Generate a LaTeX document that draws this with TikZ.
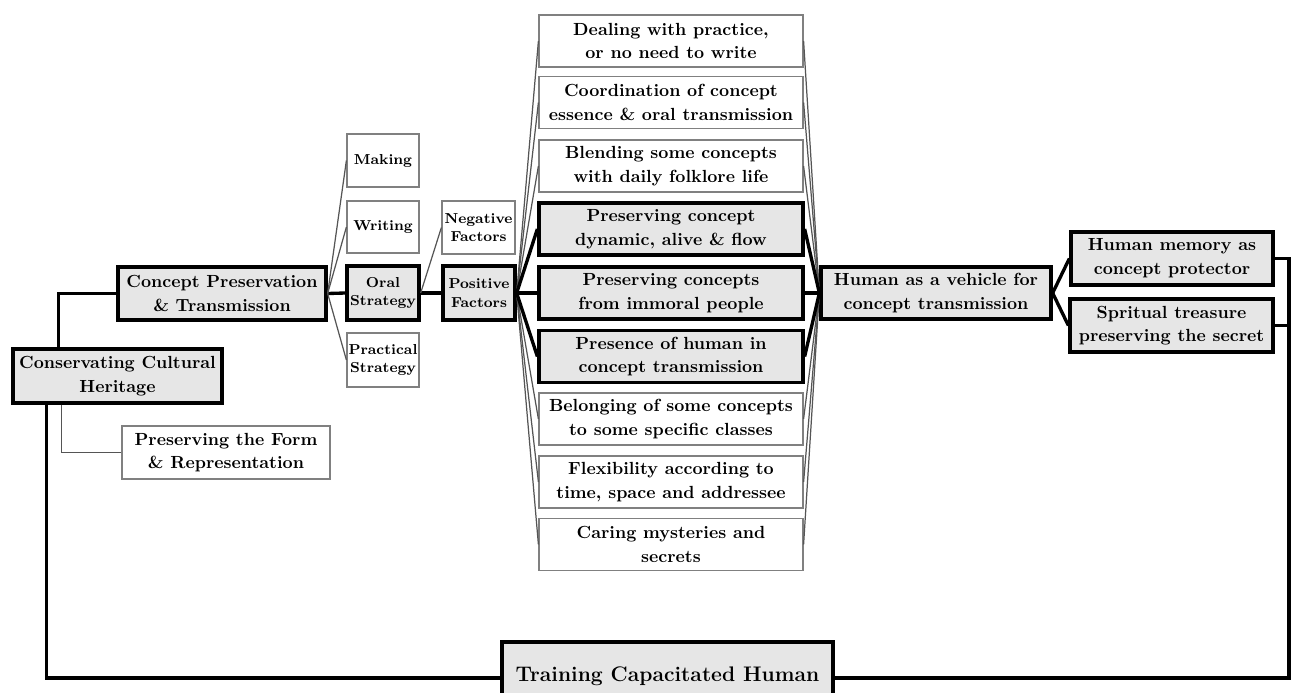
\documentclass[tikz,border=0pt]{standalone}
\usetikzlibrary{calc}
\definecolor{boxgray}{HTML}{E6E6E6}
\definecolor{thingray}{HTML}{555555}
\begin{document}
\begin{tikzpicture}[x=0.02cm,y=-0.02cm,
  base/.style={align=center,inner sep=0pt,font=\bfseries\fontsize{10}{13.5}\selectfont},
  gbox/.style={base,draw=black,line width=1.9pt,fill=boxgray},
  wbox/.style={base,draw=gray,line width=0.7pt,fill=white},
  small/.style={font=\bfseries\fontsize{8.2}{10.5}\selectfont},
  thickc/.style={draw=black,line width=1.9pt},
  thinc/.style={draw=thingray,line width=0.7pt},
  mid/.style={minimum width=5.28cm,minimum height=1.04cm}]
\useasboundingbox (0,0) rectangle (1292,693);
% left part
\node[gbox,minimum width=4.18cm,minimum height=1.08cm] (cch) at (117.5,376) {Conservating Cultural\\Heritage};
\node[gbox,minimum width=4.16cm,minimum height=1.06cm] (cpt) at (222,293.5) {Concept Preservation\\\& Transmission};
\node[wbox,minimum width=4.16cm,minimum height=1.06cm] (pfr) at (226,452.5) {Preserving the Form\\\& Representation};
% strategies
\node[wbox,small,minimum width=1.44cm,minimum height=1.06cm] (mak) at (383,160.5) {Making};
\node[wbox,small,minimum width=1.44cm,minimum height=1.04cm] (wri) at (383,227) {Writing};
\node[gbox,small,minimum width=1.44cm,minimum height=1.08cm] (ora) at (383,293) {Oral\\Strategy};
\node[wbox,small,minimum width=1.44cm,minimum height=1.08cm] (pra) at (383,360) {Practical\\Strategy};
\node[wbox,small,minimum width=1.46cm,minimum height=1.06cm] (neg) at (478.5,227.5) {Negative\\Factors};
\node[gbox,small,minimum width=1.44cm,minimum height=1.08cm] (pos) at (479,293) {Positive\\Factors};
% middle column
\node[wbox,mid] (m1) at (671,41) {Dealing with practice,\\or no need to write};
\node[wbox,mid] (m2) at (671,102.5) {Coordination of concept\\essence \& oral transmission};
\node[wbox,mid] (m3) at (671,166) {Blending some concepts\\with daily folklore life};
\node[gbox,mid] (m4) at (671,229) {Preserving concept\\dynamic, alive \& flow};
\node[gbox,mid] (m5) at (671,293) {Preserving concepts\\from immoral people};
\node[gbox,mid] (m6) at (671,356.5) {Presence of human in\\concept transmission};
\node[wbox,mid] (m7) at (671,419) {Belonging of some concepts\\to some specific classes};
\node[wbox,mid] (m8) at (671,482) {Flexibility according to\\time, space and addressee};
\node[wbox,mid] (m9) at (671,544.5) {Caring mysteries and\\secrets};
% right part
\node[gbox,minimum width=4.6cm,minimum height=1.04cm] (hv) at (936,293) {Human as a vehicle for\\concept transmission};
\node[gbox,minimum width=4.04cm,minimum height=1.06cm] (hm) at (1172,258.5) {Human memory as\\concept protector};
\node[gbox,minimum width=4.06cm,minimum height=1.06cm] (st) at (1171.5,325.5) {Spritual treasure\\preserving the secret};
% bottom
\node[gbox,minimum width=6.62cm,minimum height=1.44cm,font=\bfseries\fontsize{12}{14}\selectfont] (tr) at (667.5,678) {\raisebox{4pt}{Training Capacitated Human}};
\coordinate (re) at (1289,678);
% connectors left
\draw[thickc] ($(cch.north west)+(47,0)$) |- (cpt.west);
\draw[thinc] ($(cch.south west)+(50,0)$) |- (pfr.west);
\draw[thickc] ($(cch.south west)+(35,0)$) |- (tr.west);
\draw[thickc] (hm.east) -| (re) -- (tr.east);
\draw[thickc] (st.east) -- (st.east -| re);
% strategies
\draw[thickc] (cpt.east) -- (ora.west);
\draw[thinc] (cpt.east) -- (mak.west);
\draw[thinc] (cpt.east) -- (wri.west);
\draw[thinc] (cpt.east) -- (pra.west);
\draw[thickc] (ora.east) -- (pos.west);
\draw[thinc] (ora.east) -- (neg.west);
% fan
\foreach \m in {m1,m2,m3,m7,m8,m9} {
  \draw[thinc] (pos.east) -- (\m.west);
  \draw[thinc] (\m.east) -- (hv.west);
}
\foreach \m in {m4,m5,m6} {
  \draw[thickc] (pos.east) -- (\m.west);
  \draw[thickc] (\m.east) -- (hv.west);
}
\draw[thickc] (hv.east) -- (hm.west);
\draw[thickc] (hv.east) -- (st.west);
\end{tikzpicture}
\end{document}
